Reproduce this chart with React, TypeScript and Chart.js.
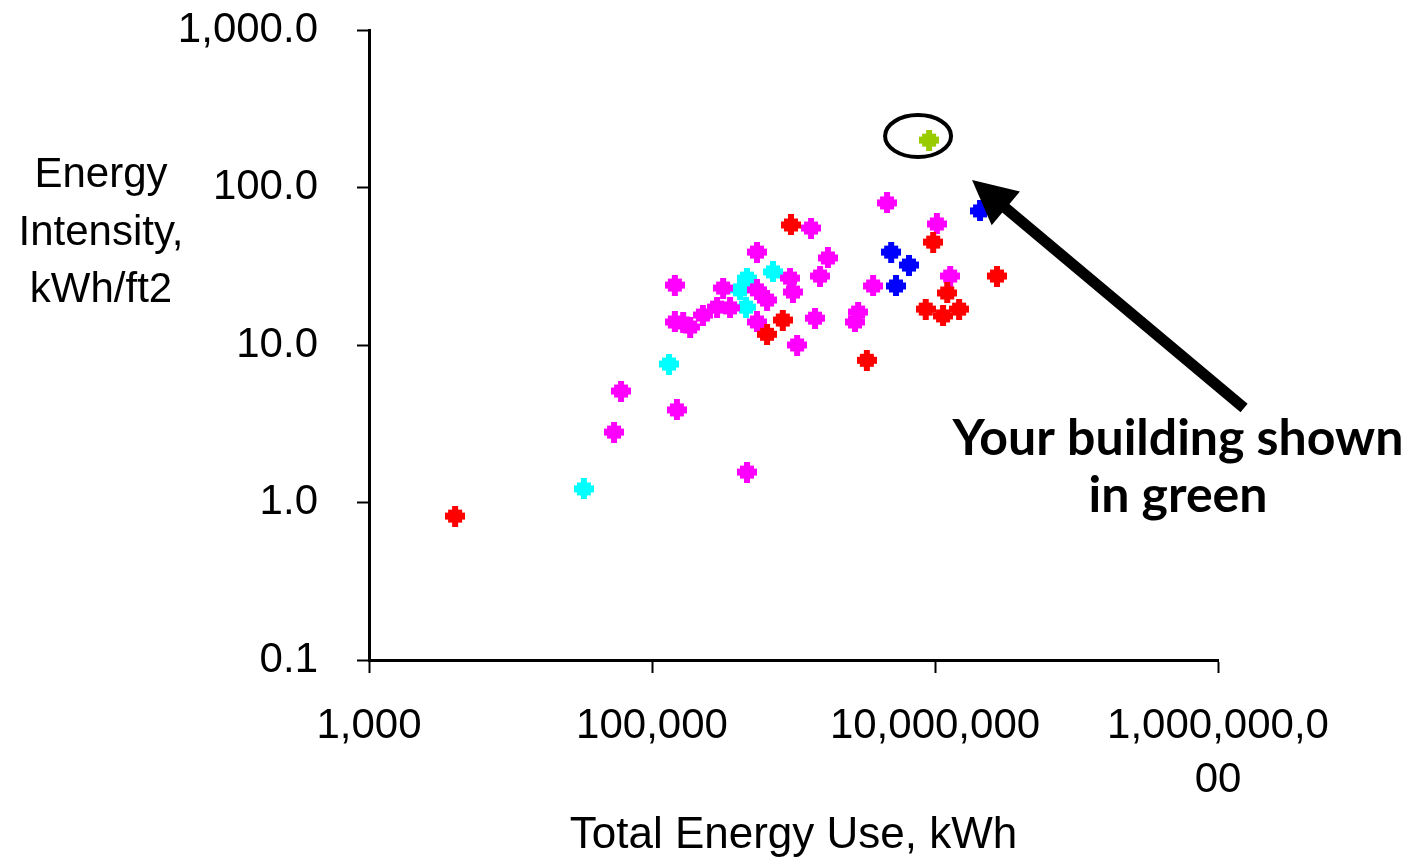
import React, { useEffect, useRef } from 'react';
import { Chart, registerables } from 'chart.js';

Chart.register(...registerables);

// ---- tick marks / labels ----
const xTickValues = [1e3, 1e5, 1e7, 1e9];
const xTickLabels: (string | string[])[] = ['1,000', '100,000', '10,000,000', ['1,000,000,0', '00']];
const yTickValues = [0.1, 1, 10, 100, 1000];
const yTickLabels = ['0.1', '1.0', '10.0', '100.0', '1,000.0'];

const xTitle = 'Total Energy Use, kWh';
const yTitleLines = ['Energy', 'Intensity,', 'kWh/ft2'];
const noteLines = ['Your building shown', 'in green'];

// ---- series (Total Energy Use kWh, Energy Intensity kWh/ft2) ----
const greenX = [9.08e6];
const greenY = [200];

const blueX = [2.08e7, 4.9e6, 6.55e6, 5.3e6];
const blueY = [71, 38.9, 32.2, 23.7];

const redX = [4060, 9.6e5, 9.7e6, 2.74e7, 3.3e6, 8.4e5, 6.5e5, 1.22e7, 8.6e6, 1.48e7, 1.14e7];
const redY = [0.82, 57.8, 45, 27.4, 8.0, 14.4, 11.7, 21.4, 16.9, 16.9, 15.3];

const magentaX = [
  4.58e6, 1.33e6, 1.03e7, 552000, 1.75e6, 1.28e7, 1.54e6, 945000, 145000, 318000,
  3.65e6, 552000, 991000, 650000, 288000, 356000, 229000, 166000, 186000, 145000,
  2.86e6, 2.72e6, 1.42e6, 552000, 1.06e6, 60400, 150000, 53900, 469000,
];
const magentaY = [
  79.8, 55.3, 58.7, 38.9, 35.7, 27.4, 27.4, 26.6, 24.0, 23.0,
  23.7, 22.4, 21.7, 19.3, 17.4, 17.2, 15.5, 13.8, 13.0, 14.0,
  16.2, 14.0, 14.8, 14.0, 10.0, 5.1, 3.87, 2.8, 1.56,
];

const cyanX = [33000, 132000, 716000, 469000, 419000, 462000];
const cyanY = [1.22, 7.57, 29.1, 26.6, 22.4, 17.4];

const toPoints = (xs: number[], ys: number[]) => xs.map((x, i) => ({ x, y: ys[i] }));

const LABEL_FONT = '"Liberation Sans", Arial, sans-serif';

// blocky rounded-diamond marker like the original spreadsheet export
function makeMarker(color: string): HTMLCanvasElement {
  const c = document.createElement('canvas');
  c.width = 20;
  c.height = 21;
  const g = c.getContext('2d')!;
  g.fillStyle = color;
  g.fillRect(7, 0, 6, 4);
  g.fillRect(3, 4, 14, 3);
  g.fillRect(0, 7, 20, 7);
  g.fillRect(3, 14, 14, 3);
  g.fillRect(7, 17, 6, 4);
  return c;
}

export default function App() {
  const ref = useRef<HTMLCanvasElement>(null);

  useEffect(() => {
    const canvas = ref.current;
    if (!canvas) return;

    const annotate = {
      id: 'annotate',
      afterDraw(chart: any) {
        const c: CanvasRenderingContext2D = chart.ctx;
        const xs = chart.scales.x;
        const ys = chart.scales.y;
        c.save();
        c.fillStyle = '#000';
        c.strokeStyle = '#000';

        // horizontal multi-line y-axis title
        c.font = `42px ${LABEL_FONT}`;
        c.textAlign = 'center';
        c.textBaseline = 'alphabetic';
        const tx = chart.chartArea.left - 268;
        yTitleLines.forEach((t, i) => c.fillText(t, tx, 187 + i * 57.5));

        // ellipse round the green point
        const gx = xs.getPixelForValue(greenX[0]);
        const gy = ys.getPixelForValue(greenY[0]);
        c.lineWidth = 4;
        c.beginPath();
        c.ellipse(gx - 11, gy - 4, 33, 21, 0, 0, Math.PI * 2);
        c.stroke();

        // arrow
        const tipX = gx + 43, tipY = gy + 40;
        const tailX = tipX + 272, tailY = tipY + 228;
        const dx = tailX - tipX, dy = tailY - tipY;
        const len = Math.hypot(dx, dy);
        const ux = dx / len, uy = dy / len;
        const headLen = 44, headHalf = 22;
        const bx = tipX + ux * headLen, by = tipY + uy * headLen;
        c.lineWidth = 11;
        c.lineCap = 'butt';
        c.beginPath();
        c.moveTo(bx - ux * 2, by - uy * 2);
        c.lineTo(tailX, tailY);
        c.stroke();
        c.beginPath();
        c.moveTo(tipX, tipY);
        c.lineTo(bx - uy * headHalf, by + ux * headHalf);
        c.lineTo(bx + uy * headHalf, by - ux * headHalf);
        c.closePath();
        c.fill();

        // note text
        c.font = 'bold 50px Lato, "Open Sans", sans-serif';
        c.textAlign = 'center';
        noteLines.forEach((t, i) => c.fillText(t, 1178, 455 + i * 57));
        c.restore();
      },
    };

    const ds = (data: { x: number; y: number }[], color: string) => {
      const marker = makeMarker(color);
      return {
        data,
        backgroundColor: color,
        borderColor: color,
        borderWidth: 0,
        pointStyle: marker as any,
        pointRadius: 10,
        pointHoverRadius: 10,
      };
    };

    const chart = new Chart(canvas, {
      type: 'scatter',
      data: {
        datasets: [
          ds(toPoints(greenX, greenY), '#99CC00'),
          ds(toPoints(blueX, blueY), '#0000FF'),
          ds(toPoints(redX, redY), '#FF0000'),
          ds(toPoints(magentaX, magentaY), '#FF00FF'),
          ds(toPoints(cyanX, cyanY), '#00FFFF'),
        ],
      },
      options: {
        responsive: false,
        animation: false,
        events: [],
        layout: { padding: { left: 0, right: 191, top: 30, bottom: 0 } },
        plugins: {
          legend: { display: false },
          tooltip: { enabled: false },
        },
        scales: {
          x: {
            type: 'logarithmic',
            min: 1e3,
            max: 1e9,
            afterBuildTicks: (s: any) => {
              s.ticks = xTickValues.map((v) => ({ value: v }));
            },
            afterFit: (s: any) => {
              s.height = 202;
              s.paddingLeft = 0;
              s.paddingRight = 0;
            },
            ticks: {
              autoSkip: false,
              maxRotation: 0,
              minRotation: 0,
              padding: 26,
              color: '#000',
              font: { family: LABEL_FONT, size: 42, lineHeight: 1.3 },
              callback: (_v: any, i: number) => xTickLabels[i],
            },
            grid: {
              display: true,
              drawOnChartArea: false,
              drawTicks: true,
              tickLength: 13,
              tickWidth: 2,
              tickColor: '#000',
            },
            border: { display: true, color: '#000', width: 3 },
            title: {
              display: true,
              text: xTitle,
              color: '#000',
              font: { family: LABEL_FONT, size: 44, lineHeight: 1.2 },
              padding: { top: 0, bottom: 0 },
            },
          },
          y: {
            type: 'logarithmic',
            min: 0.1,
            max: 1000,
            afterBuildTicks: (s: any) => {
              s.ticks = yTickValues.map((v) => ({ value: v }));
            },
            afterFit: (s: any) => {
              s.width = 369;
              s.paddingTop = 0;
              s.paddingBottom = 0;
            },
            ticks: {
              autoSkip: false,
              padding: 39,
              color: '#000',
              font: { family: LABEL_FONT, size: 42 },
              callback: (_v: any, i: number) => yTickLabels[i],
            },
            grid: {
              display: true,
              drawOnChartArea: false,
              drawTicks: true,
              tickLength: 12,
              tickWidth: 2,
              tickColor: '#000',
            },
            border: { display: true, color: '#000', width: 3 },
          },
        },
      },
      plugins: [annotate],
    });

    return () => chart.destroy();
  }, []);

  return (
    <div style={{ position: 'absolute', left: 0, top: 0, width: 1409, height: 862, background: '#fff' }}>
      <canvas ref={ref} width={1409} height={862} style={{ display: 'block' }} />
    </div>
  );
}
